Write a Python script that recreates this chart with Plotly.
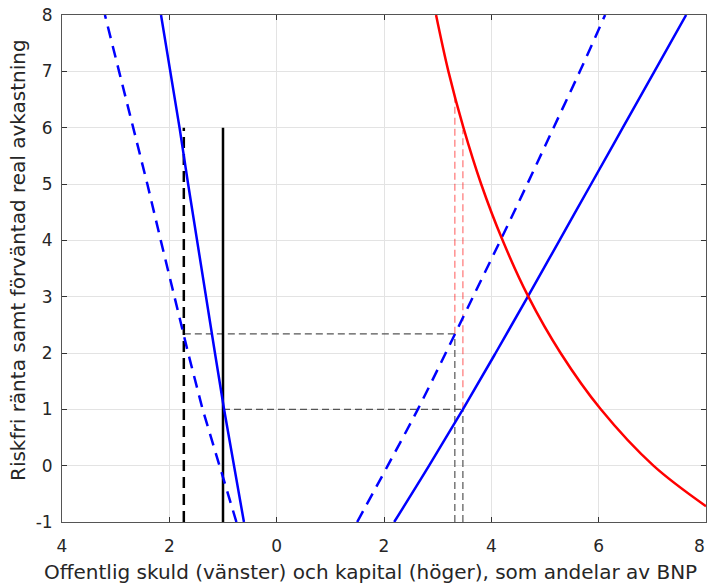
import plotly.graph_objects as go

# ---- data ----
r_levels = [-1, 0, 1, 2, 3, 4, 5, 6, 7, 8]
debt_solid_x = [-0.61, -0.80, -0.98, -1.15, -1.32, -1.49, -1.65, -1.81, -1.98, -2.155]
debt_dashed_x = [-0.75, -1.07, -1.38, -1.65, -1.91, -2.16, -2.41, -2.67, -2.93, -3.20]
capital_solid_x = [2.19, 2.84, 3.47, 4.08, 4.68, 5.27, 5.86, 6.45, 7.04, 7.63]
capital_dashed_x = [1.50, 2.07, 2.63, 3.15, 3.66, 4.17, 4.67, 5.16, 5.65, 6.12]

mpk_x = [2.97, 3.20, 3.48, 3.81, 4.21, 4.69, 5.29, 6.04, 7.02, 8.00]
mpk_y = [8.0, 7.0, 6.0, 5.0, 4.0, 3.0, 2.0, 1.0, 0.0, -0.72]

r_eq = [1.0, 2.34]          # solid / dashed equilibria
debt_eq = [-1.0, -1.73]
capital_eq = [3.47, 3.32]
mpk_at_eq = [5.96, 6.50]
debt_bar_top = 6.0

x_ticks = [-4, -2, 0, 2, 4, 6, 8]
x_tick_text = ["4", "2", "0", "2", "4", "6", "8"]
y_ticks = list(range(-1, 9))
y_tick_text = ["-1", "0", "1", "2", "3", "4", "5", "6", "7", "8"]

x_title = "Offentlig skuld (vänster) och kapital (höger), som andelar av BNP"
y_title = "Riskfri ränta samt förväntad real avkastning"

BLUE = "#0000ff"
RED = "#ff0000"
GREY = "#555555"
LIGHTRED = "rgba(255,0,0,0.5)"
FONT = "DejaVu Sans, Liberation Sans, Arial, sans-serif"
TXT = "#262626"

fig = go.Figure()

# guide lines
for i in range(2):
    fig.add_trace(go.Scatter(x=[debt_eq[i], capital_eq[i]], y=[r_eq[i], r_eq[i]], mode="lines",
                             line=dict(color=GREY, width=1.2, dash="7px,4px"), hoverinfo="skip"))
    fig.add_trace(go.Scatter(x=[capital_eq[i], capital_eq[i]], y=[-1, r_eq[i]], mode="lines",
                             line=dict(color=GREY, width=1.2, dash="7px,4px"), hoverinfo="skip"))
    fig.add_trace(go.Scatter(x=[capital_eq[i], capital_eq[i]], y=[r_eq[i], mpk_at_eq[i]], mode="lines",
                             line=dict(color=LIGHTRED, width=1.3, dash="7px,4px"), hoverinfo="skip"))

# debt supply verticals
fig.add_trace(go.Scatter(x=[debt_eq[0], debt_eq[0]], y=[-1, debt_bar_top], mode="lines",
                         line=dict(color="black", width=2.5), hoverinfo="skip"))
fig.add_trace(go.Scatter(x=[debt_eq[1], debt_eq[1]], y=[-1, debt_bar_top], mode="lines",
                         line=dict(color="black", width=2.5, dash="11px,6px"), hoverinfo="skip"))

# blue curves
fig.add_trace(go.Scatter(x=debt_solid_x, y=r_levels, mode="lines",
                         line=dict(color=BLUE, width=2.5), hoverinfo="skip"))
fig.add_trace(go.Scatter(x=debt_dashed_x, y=r_levels, mode="lines",
                         line=dict(color=BLUE, width=2.5, dash="12px,8px"), hoverinfo="skip"))
fig.add_trace(go.Scatter(x=capital_solid_x, y=r_levels, mode="lines", line_shape="spline",
                         line=dict(color=BLUE, width=2.5), hoverinfo="skip"))
fig.add_trace(go.Scatter(x=capital_dashed_x, y=r_levels, mode="lines", line_shape="spline",
                         line=dict(color=BLUE, width=2.5, dash="12px,8px"), hoverinfo="skip"))

# red curve
fig.add_trace(go.Scatter(x=mpk_x, y=mpk_y, mode="lines", line_shape="spline",
                         line=dict(color=RED, width=2.5), hoverinfo="skip"))

axis_common = dict(
    showgrid=True, gridcolor="#e3e3e3", gridwidth=1,
    showline=True, linecolor="#555555", linewidth=1, mirror="allticks",
    ticks="inside", ticklen=5, tickcolor="#333333",
    zeroline=False, automargin=False,
    tickfont=dict(family=FONT, size=17, color=TXT),
)

# last x tick label is drawn as an annotation so it stays inside the page
fig.update_xaxes(range=[-4, 8], tickvals=x_ticks, ticktext=x_tick_text[:-1] + [""],
                 ticklabelstandoff=9, **axis_common)
fig.update_yaxes(range=[-1, 8], tickvals=y_ticks, ticktext=y_tick_text, ticklabelstandoff=5,
                 **axis_common)

fig.add_annotation(text=x_tick_text[-1], x=x_ticks[-1], xref="x", yref="paper",
                   y=(522 - 546) / 507, xanchor="right", yanchor="middle", showarrow=False,
                   xshift=1, font=dict(family=FONT, size=17, color=TXT))

# axis titles (placed as annotations to match the reference offsets)
fig.add_annotation(text=x_title, xref="paper", yref="paper",
                   x=(370 - 62) / 644, y=(522 - 572) / 507,
                   xanchor="center", yanchor="middle", showarrow=False,
                   font=dict(family=FONT, size=20, color=TXT))
fig.add_annotation(text=y_title, xref="paper", yref="paper",
                   x=(18 - 62) / 644, y=(522 - 260) / 507, textangle=-90,
                   xanchor="center", yanchor="middle", showarrow=False,
                   font=dict(family=FONT, size=20, color=TXT))

fig.update_layout(
    width=707, height=585,
    margin=dict(l=62, r=1, t=15, b=63),
    plot_bgcolor="white", paper_bgcolor="white",
    showlegend=False,
)

fig.write_html("out.html")
